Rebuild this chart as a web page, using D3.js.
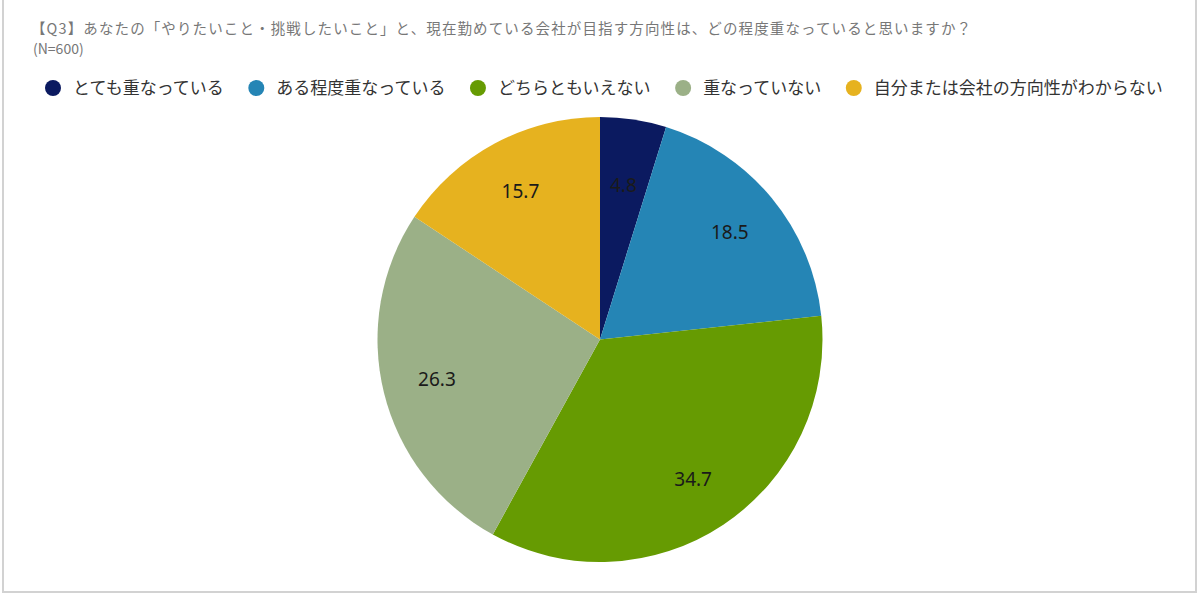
<!DOCTYPE html>
<html><head><meta charset="utf-8">
<script src="https://cdn.jsdelivr.net/npm/d3@7"></script>
<style>
html,body{margin:0;padding:0;background:#fff;}
svg{display:block;}
</style></head>
<body>
<svg id="chart" width="1200" height="596"></svg>
<script>
const title = "【Q3】あなたの「やりたいこと・挑戦したいこと」と、現在勤めている会社が目指す方向性は、どの程度重なっていると思いますか？";
const subtitle = "(N=600)";
const categories = ["とても重なっている","ある程度重なっている","どちらともいえない","重なっていない","自分または会社の方向性がわからない"];
const values = [4.8, 18.5, 34.7, 26.3, 15.7];
const colors = ["#0b1a60","#2585b5","#669b02","#9bb087","#e6b21f"];

const svg = d3.select("#chart");
const jp = "'Noto Sans CJK JP','Noto Sans',sans-serif";

// frame
svg.append("rect").attr("x",3).attr("y",-3).attr("width",1193).attr("height",595)
  .attr("fill","none").attr("stroke","#d2d2d2").attr("stroke-width",2);

const tt = svg.append("text").attr("x",31).attr("y",34).attr("font-family",jp).attr("font-size",14.5)
  .attr("fill","#777").text(title);
tt.attr("textLength", 940).attr("lengthAdjust","spacing");
svg.append("text").attr("x",33).attr("y",54).attr("font-family",jp).attr("font-size",14)
  .attr("fill","#777").text(subtitle);

// legend
let lx = 53;
const ly = 88;
categories.forEach((c,i)=>{
  svg.append("circle").attr("cx",lx).attr("cy",ly).attr("r",8).attr("fill",colors[i]);
  const t = svg.append("text").attr("x",lx+20).attr("y",ly+6).attr("font-family",jp)
    .attr("font-size",17).attr("fill","#333").text(c);
  const w = t.node().getComputedTextLength();
  lx += 20 + w + 32.5;
});

// pie
const cx = 600, cy = 339.5, r = 222.5;
const pie = d3.pie().sort(null).value(d=>d)(values);
const arc = d3.arc().innerRadius(0).outerRadius(r);
const g = svg.append("g").attr("transform",`translate(${cx},${cy})`);
g.selectAll("path").data(pie).join("path").attr("d",arc).attr("fill",(d,i)=>colors[i]);
g.selectAll("text.lbl").data(pie).join("text").attr("class","lbl")
  .attr("transform",d=>{
    const lr = (d.endAngle - d.startAngle) < 0.4 ? r*0.70 : r*0.755;
    const p = d3.arc().innerRadius(lr).outerRadius(lr).centroid(d);
    return `translate(${p[0]},${p[1]})`;})
  .attr("text-anchor","middle").attr("dy","0.35em")
  .attr("font-family","'Noto Sans',sans-serif").attr("font-size",19).attr("fill","#1a1a1a")
  .text(d=>d.data.toFixed(1));
</script>
</body></html>
